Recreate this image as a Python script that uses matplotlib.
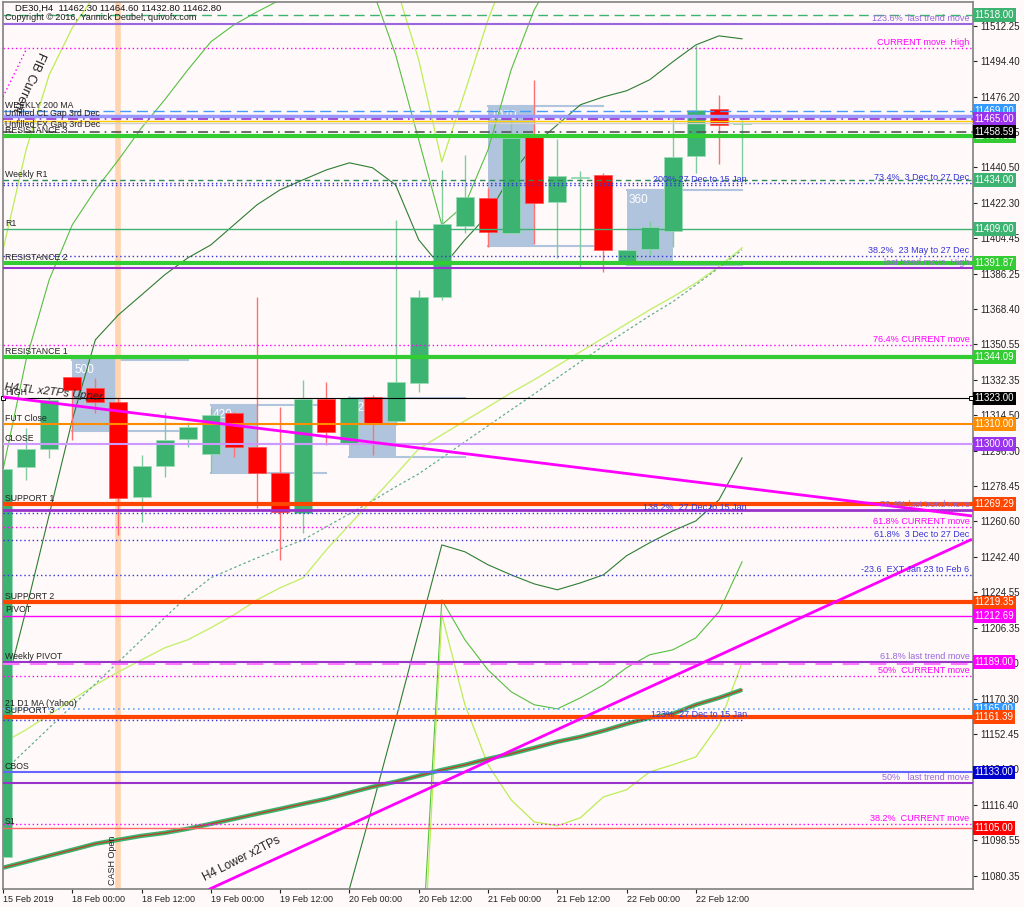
import matplotlib
matplotlib.use("Agg")
import matplotlib.pyplot as plt
from matplotlib.patches import Rectangle

plt.rcParams['font.family'] = ['Liberation Sans', 'DejaVu Sans']

# ---- chart data -------------------------------------------------------
symbol_line = "DE30,H4  11462.30 11464.60 11432.80 11462.80"
copyright_line = "Copyright \u00a9 2016, Yannick Deubel, quivofx.com"

opens = [11090.0, 11288.2, 11297.3, 11333.9, 11328.3, 11321.2, 11272.9, 11288.7, 11302.4,
         11294.8, 11315.6, 11298.3, 11285.1, 11264.8, 11322.7, 11300.4, 11323.7, 11311.6,
         11330.9, 11374.5, 11410.6, 11424.9, 11407.1, 11455.9, 11422.8, 11435.0, 11436.5,
         11392.8, 11399.0, 11408.1, 11446.2, 11470.1, 11462.3]
highs = [11287.2, 11308.0, 11323.7, 11333.9, 11333.4, 11323.2, 11294.3, 11316.1, 11311.1,
         11318.2, 11316.1, 11374.5, 11318.7, 11332.4, 11331.4, 11324.2, 11324.7, 11413.7,
         11378.1, 11439.1, 11446.7, 11430.0, 11466.0, 11484.8, 11454.8, 11438.6, 11437.6,
         11398.4, 11413.2, 11466.0, 11502.6, 11477.2, 11464.6]
lows = [11090.0, 11281.6, 11292.8, 11301.9, 11315.6, 11253.6, 11260.2, 11283.1, 11298.3,
        11285.1, 11293.3, 11267.4, 11240.9, 11254.6, 11299.3, 11299.8, 11294.3, 11309.5,
        11326.3, 11373.0, 11407.1, 11400.0, 11407.1, 11401.5, 11394.4, 11389.8, 11387.3,
        11392.8, 11395.9, 11400.0, 11437.6, 11442.1, 11432.8]
closes = [11287.2, 11297.3, 11322.2, 11327.3, 11321.2, 11272.4, 11288.7, 11301.9, 11308.5,
          11314.6, 11298.3, 11285.1, 11265.3, 11322.7, 11306.0, 11323.2, 11310.5, 11331.4,
          11374.5, 11411.6, 11425.4, 11407.6, 11455.3, 11422.3, 11436.0, 11435.5, 11398.4,
          11398.4, 11410.1, 11445.7, 11469.6, 11462.0, 11462.8]

x_labels = ["15 Feb 2019", "18 Feb 00:00", "18 Feb 12:00", "19 Feb 00:00", "19 Feb 12:00",
            "20 Feb 00:00", "20 Feb 12:00", "21 Feb 00:00", "21 Feb 12:00", "22 Feb 00:00",
            "22 Feb 12:00"]
y_ticks = [11512.25, 11494.40, 11476.20, 11458.35, 11440.50, 11422.30, 11404.45, 11386.25,
           11368.40, 11350.55, 11332.35, 11314.50, 11296.30, 11278.45, 11260.60, 11242.40,
           11224.55, 11206.35, 11188.50, 11170.30, 11152.45, 11134.60, 11116.40, 11098.55,
           11080.35]

# band / envelope indicators (one value per bar)
dark_upper = [11169.9, 11215.6, 11263.9, 11312.1, 11352.8, 11365.5, 11375.6, 11385.8, 11394.4,
              11401.0, 11411.2, 11421.4, 11429.0, 11434.1, 11439.1, 11442.7, 11440.2, 11431.5,
              11403.6, 11389.4, 11403.6, 11416.3, 11436.6, 11451.8, 11462.0, 11472.2, 11476.2,
              11479.3, 11484.9, 11494.0, 11502.6, 11507.2, 11505.7]
dark_lower = [11000, 11000, 11000, 11000, 11000, 11000, 11000, 11000, 11000, 11000, 11000,
              11000, 11000, 11000, 11030, 11073.9, 11116.1, 11159.7, 11204.4, 11248.6, 11245.1,
              11238.5, 11233.4, 11228.8, 11225.8, 11229.3, 11233.4, 11243.1, 11249.7, 11255.7,
              11260.8, 11271.5, 11292.8]
mid_upper = [11286.7, 11342.6, 11383.3, 11411.2, 11429.0, 11444.2, 11460.5, 11474.7, 11489.9,
             11504.2, 11512.8, 11519.4, 11525.5, 11530.6, 11535.7, 11538.2, 11530.6, 11497.6,
             11454.4, 11411.2, 11421.4, 11449.3, 11489.9, 11520.4, 11540.7, 11545.8, 11545.8,
             11545.8, 11545.8, 11545.8, 11545.8, 11545.8, 11545.8]
mid_lower = [10950] * 18 + [11012, 11220.7, 11200.4, 11185.1, 11174.0, 11167.4, 11165.3,
                            11170.9, 11177.5, 11186.2, 11192.8, 11195.3, 11201.4, 11214.6,
                            11240.0]
light_upper = [11398.5, 11449.3, 11487.4, 11511.3, 11528.0] + [11545.8] * 11 + \
              [11540.7, 11533.1, 11495.0, 11443.2, 11478.8, 11515.3] + [11545.8] * 11
light_lower = [10900] * 18 + [10990, 11213.1, 11167.4, 11136.9, 11119.1, 11107.9, 11105.9,
                              11110.0, 11120.6, 11124.2, 11133.3, 11136.9, 11140.9, 11157.2,
                              11188.7]
slow_ma = [11148.1, 11154.7, 11162.3, 11169.9, 11177.5, 11184.1, 11190.2, 11196.3, 11200.4,
           11206.5, 11213.1, 11220.7, 11226.8, 11231.9, 11246.1, 11258.8, 11271.5, 11284.2,
           11297.4, 11304.5, 11311.6, 11318.7, 11325.9, 11332.5, 11339.6, 11346.7, 11353.8,
           11360.9, 11368.0, 11374.6, 11381.7, 11389.9, 11399.5]
dotted_ma = [11133.3, 11144.5, 11155.7, 11166.9, 11178.0, 11189.2, 11200.4, 11211.6, 11222.7,
             11231.9, 11237.0, 11242.0, 11246.6, 11251.2, 11257.8, 11264.4, 11271.0, 11278.1,
             11284.7, 11292.8, 11301.0, 11309.1, 11317.2, 11325.3, 11333.5, 11341.6, 11349.7,
             11357.4, 11365.0, 11372.1, 11380.7, 11389.4, 11398.5]
d1_ma = [11084.6, 11087.6, 11090.7, 11093.7, 11096.8, 11098.8, 11100.8, 11102.3, 11104.4,
         11106.9, 11109.4, 11112.0, 11114.5, 11117.1, 11119.6, 11122.7, 11125.7, 11128.3,
         11131.3, 11134.3, 11136.9, 11139.9, 11142.5, 11145.5, 11148.6, 11151.1, 11154.2,
         11157.7, 11160.8, 11162.8, 11167.4, 11170.9, 11175.0]

# trend lines: (bar start, price start, bar end, price end)
tl_upper = (0.0, 11323.8, 41.9, 11263.4)
tl_lower = (8.97, 11073.9, 41.9, 11251.2)
fib_diag = (0.0, 11476.2, 1.04, 11501.1)

# range boxes
box_start = [3, 9, 15, 21, 27]
box_end = [5, 11, 17, 23, 29]
box_top = [11342.6, 11319.8, 11323.3, 11471.6, 11429.0]
box_bottom = [11306.5, 11285.2, 11293.3, 11400.5, 11390.9]
box_text = ["500", "420", "3230", "1070", "360"]

# horizontal levels
level_prices = [11518.00, 11513.3, 11501.1, 11469.00, 11466.6, 11465.00, 11464.2, 11462.8,
                11458.59, 11456.3, 11434.0, 11432.5, 11409.00, 11395.4, 11391.87, 11389.4,
                11350.2, 11344.09, 11323.00, 11310.00, 11300.00, 11269.29, 11266.3, 11257.8,
                11251.2, 11233.4, 11219.35, 11212.69, 11189.0, 11188.2, 11182.1, 11165.0,
                11161.39, 11133.0, 11127.8, 11106.9, 11105.0]
short_levels = [11431.5, 11264.8, 11159.7]
short_texts = ["200% 27 Dec to 15 Jan", "138.2%  27 Dec to 15 Jan", "123%  27 Dec to 15 Jan"]

left_texts = [("WEEKLY 200 MA", 11469.0), ("Unfilled CL Gap 3rd Dec", 11465.0),
              ("Unfilled FX Gap 3rd Dec", 11459.5), ("RESISTANCE 3", 11456.3),
              ("Weekly R1", 11434.0), ("R1", 11409.0), ("RESISTANCE 2", 11391.87),
              ("RESISTANCE 1", 11344.09), ("HIGH", 11323.0), ("FUT Close", 11310.0),
              ("CLOSE", 11300.0), ("SUPPORT 1", 11269.29), ("SUPPORT 2", 11219.35),
              ("PIVOT", 11212.69), ("Weekly PIVOT", 11189.0), ("21 D1 MA (Yahoo)", 11165.0),
              ("SUPPORT 3", 11161.39), ("CBOS", 11133.0), ("S1", 11105.0)]
right_texts = [("123.6%  last trend move", 11513.3, "purple"),
               ("CURRENT move  High", 11501.1, "magenta"),
               ("73.4%  3 Dec to 27 Dec", 11432.5, "blue"),
               ("38.2%  23 May to 27 Dec", 11395.4, "blue"),
               ("last trend move  High", 11389.4, "purple"),
               ("76.4% CURRENT move", 11350.2, "magenta"),
               ("76.4% last trend move", 11266.3, "purple"),
               ("61.8% CURRENT move", 11257.8, "magenta"),
               ("61.8%  3 Dec to 27 Dec", 11251.2, "blue"),
               ("-23.6  EXT Jan 23 to Feb 6", 11233.4, "blue"),
               ("61.8% last trend move", 11189.0, "purple"),
               ("50%  CURRENT move", 11182.1, "magenta"),
               ("50%   last trend move", 11127.8, "purple"),
               ("38.2%  CURRENT move", 11106.9, "magenta")]

# right-hand price tags, drawn in this order
tag_prices = [11518.00, 11456.32, 11462.80, 11469.00, 11465.00, 11458.59, 11434.00, 11409.00,
              11391.87, 11344.09, 11323.00, 11310.00, 11300.00, 11269.29, 11219.35, 11212.69,
              11189.00, 11165.00, 11161.39, 11133.00, 11105.00]
tag_colors = ["#3CB371", "#33CC33", "#000000", "#3399FF", "#9933EE", "#000000", "#3CB371",
              "#3CB371", "#33CC33", "#33CC33", "#000000", "#FF8C00", "#9933EE", "#FF4500",
              "#FF4500", "#FF00FF", "#FF00FF", "#3399FF", "#FF4500", "#0000CD", "#FF0000"]

# ---- styles -----------------------------------------------------------
BG = "#FFF9F9"
GREEN = "#3CB371"
LIME = "#33CC33"
ORANGERED = "#FF4500"
MAGENTA = "#FF00FF"
PURPLE = "#9966DD"
BLUE = "#3535D5"
TEXT_COL = {"purple": "#9966DD", "magenta": "#FF00FF", "blue": "#3535D5"}
DOT = (0, (1, 2))

level_styles = [
    (GREEN, 1, (0, (7, 4))), (PURPLE, 1.5, "-"), (MAGENTA, 1, DOT), ("#4499FF", 1, (0, (8, 4))),
    ("#9999FF", 2.5, "-"), ("#9933CC", 1.2, (0, (6, 3, 1, 3))), ("#FFCC00", 1, "-"),
    ("#CFCFCF", 1, "-"), ("#555555", 1.2, (0, (6, 3, 1, 3))), (LIME, 3, "-"),
    ("#2E8B57", 1, (0, (4, 3))), (BLUE, 1, DOT), (GREEN, 1, "-"), (BLUE, 1, DOT),
    (LIME, 3, "-"), ("#9933CC", 1.5, "-"), (MAGENTA, 1, DOT), (LIME, 3, "-"),
    ("#000000", 0.8, "-"), ("#FF8C00", 1.5, "-"), ("#CC99FF", 1.5, "-"), (ORANGERED, 3, "-"),
    ("#9933CC", 2, "-"), (MAGENTA, 1, DOT), (BLUE, 1, DOT), (BLUE, 1, DOT), (ORANGERED, 3, "-"),
    (MAGENTA, 1, "-"), ("#9933CC", 1.5, "-"), ("#FF77FF", 1.5, (0, (8, 5))), (MAGENTA, 1, DOT),
    ("#66AAFF", 1.2, DOT), (ORANGERED, 3, "-"), ("#6666FF", 1.5, "-"), ("#9933CC", 1.5, "-"),
    (MAGENTA, 1, DOT), ("#FF6666", 1, "-"),
]

fig = plt.figure(figsize=(10.24, 9.07), dpi=100, facecolor=BG)
ax = fig.add_axes([3 / 1024, 1 - 889 / 907, 970 / 1024, 887 / 907], facecolor=BG)
ax.set_xlim(0, 42)
ax.set_ylim(11073.8, 11524.4)

n = len(opens)
bars = list(range(n))

# range boxes
for s, e, t, b, lab in zip(box_start, box_end, box_top, box_bottom, box_text):
    ax.add_patch(Rectangle((s, b), e - s, t - b, fc="#B0C4DE", ec="none", zorder=1))
    ax.plot([s, s + 5], [t, t], color="#B0C4DE", lw=1.5, zorder=1)
    ax.plot([s, s + 5], [b, b], color="#B0C4DE", lw=1.5, zorder=1)
    ax.text(s + 0.1, t - 2, lab, color="white", fontsize=8.5, va="top", ha="left", zorder=1.5)

# cash open marker
ax.axvline(4.99, color="#FFD4B0", lw=4, zorder=1)
ax.text(4.73, 11076, "CASH Open", rotation=90, fontsize=6.5, ha="center", va="bottom",
        color="#222222", zorder=6)

# indicators
ax.plot(bars, dark_upper, color="#2E7D32", lw=0.8, zorder=2)
ax.plot(bars, dark_lower, color="#2E7D32", lw=0.8, zorder=2)
ax.plot(bars, mid_upper, color="#55C040", lw=0.8, zorder=2)
ax.plot(bars, mid_lower, color="#55C040", lw=0.8, zorder=2)
ax.plot(bars, light_upper, color="#BBEE55", lw=0.9, zorder=2)
ax.plot(bars, light_lower, color="#BBEE55", lw=0.9, zorder=2)
ax.plot(bars, slow_ma, color="#C5F070", lw=1, zorder=2)
ax.plot(bars, dotted_ma, color="#5FAF8F", lw=0.9, ls=(0, (2, 2)), zorder=2)
ax.plot(bars, d1_ma, color="#3CB371", lw=3.2, zorder=2, solid_capstyle="butt")
ax.plot(bars, d1_ma, color="#C04020", lw=0.9, zorder=2.1)

# candles
for i in bars:
    o, h, l, c = opens[i], highs[i], lows[i], closes[i]
    up = c >= o
    body = GREEN if up else "#FF0000"
    wick = "#7FCC9F" if up else "#FF7070"
    ax.vlines(i, l, h, color=wick, lw=1, zorder=2.5)
    ax.bar(i, max(abs(c - o), 0.7), bottom=min(o, c), width=0.78, color=body,
           edgecolor="#9ADDB5" if up else "#FF5050", linewidth=0.5, zorder=2.6)

# horizontal levels
for p, (col, lw, ls) in zip(level_prices, level_styles):
    ax.axhline(p, color=col, lw=lw, ls=ls, zorder=3)
for p, lab in zip(short_levels, short_texts):
    ax.plot([0, 32], [p, p], color=BLUE, lw=1, ls=DOT, zorder=3)
    ax.text(32.2, p + 0.3, lab, color=BLUE, fontsize=6.5, ha="right", va="bottom", zorder=5)

ax.plot([0.02, 41.9], [11323.0, 11323.0], ls="none", marker="s", ms=3, mfc="white",
        mec="black", mew=0.7, zorder=4, clip_on=False)

# trend lines
ax.plot([tl_upper[0], tl_upper[2]], [tl_upper[1], tl_upper[3]], color=MAGENTA, lw=2, zorder=4)
ax.plot([tl_lower[0], tl_lower[2]], [tl_lower[1], tl_lower[3]], color=MAGENTA, lw=2, zorder=4)
ax.plot([fib_diag[0], fib_diag[2]], [fib_diag[1], fib_diag[3]], color=MAGENTA, lw=1,
        ls=DOT, zorder=4)

ax.text(0.05, 11326.5, "H4 TL x2TPs Upper", rotation=-6, rotation_mode="anchor", fontsize=8,
        style="italic", color="#222222", ha="left", va="bottom", zorder=6)
ax.text(8.8, 11076.5, "H4 Lower x2TPs", rotation=27, rotation_mode="anchor", fontsize=8.3,
        color="#222222", ha="left", va="bottom", zorder=6)
ax.text(1.45, 11500.0, "FIB Current", rotation=-114, rotation_mode="anchor", fontsize=9,
        color="#222222", ha="left", va="bottom", zorder=6)

# labels
for lab, p in left_texts:
    ax.text(0.08, p + 0.6, lab, fontsize=6.3, color="#222222", ha="left", va="bottom", zorder=5)
for lab, p, key in right_texts:
    ax.text(41.85, p + 0.4, lab, fontsize=6.5, color=TEXT_COL[key], ha="right", va="bottom",
            zorder=5)

# axes
ax.yaxis.tick_right()
ax.set_yticks(y_ticks)
ax.set_yticklabels([f"{v:.2f}" for v in y_ticks])
ax.set_xticks(range(0, 31, 3))
ax.set_xticklabels(x_labels)
for lbl in ax.get_xticklabels():
    lbl.set_ha("left")
ax.tick_params(axis="y", length=3, width=0.8, labelsize=7, pad=2, colors="#222222")
ax.tick_params(axis="x", length=3, width=0.8, labelsize=6.5, pad=1, colors="#222222")
for sp in ax.spines.values():
    sp.set_color("#808080")
    sp.set_linewidth(1.2)

for p, col in zip(tag_prices, tag_colors):
    ax.text(1.0015, p, f"{p:.2f}", transform=ax.get_yaxis_transform(), ha="left", va="center",
            fontsize=7, color="white", zorder=10, clip_on=False,
            bbox=dict(boxstyle="square,pad=0.2", fc=col, ec="none"))

fig.text(15 / 1024, 1 - 8 / 907, symbol_line, fontsize=6.8, va="center", ha="left", color="#111111")
fig.text(5 / 1024, 1 - 18 / 907, copyright_line, fontsize=6.5, va="center", ha="left",
         color="#222222")

fig.savefig("out.png", dpi=100, facecolor=BG)
